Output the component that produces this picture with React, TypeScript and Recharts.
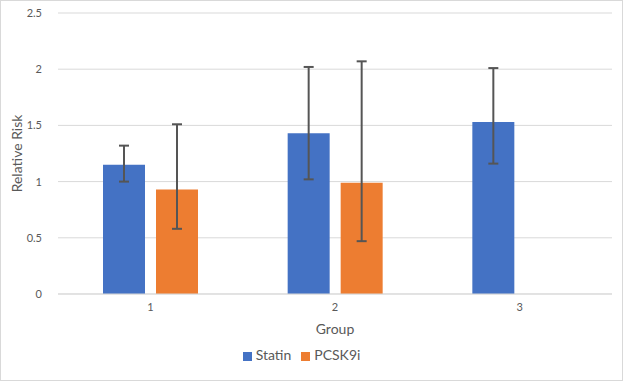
import { BarChart, Bar, XAxis, YAxis, CartesianGrid, Legend, ErrorBar } from "recharts";

const groups = ["1", "2", "3"];
const statin = [1.15, 1.43, 1.53];
const statinLow = [1.0, 1.02, 1.16];
const statinHigh = [1.32, 2.02, 2.01];
const pcsk9i: (number | null)[] = [0.93, 0.99, null];
const pcsk9iLow: (number | null)[] = [0.58, 0.47, null];
const pcsk9iHigh: (number | null)[] = [1.51, 2.07, null];
const yTicks = [0, 0.5, 1, 1.5, 2, 2.5];
const seriesOrder = ["Statin", "PCSK9i"];

const BLUE = "#4472C4";
const ORANGE = "#ED7D31";
const TEXT = "#595959";
const GRID = "#D9D9D9";
const FONT = "Lato, 'Open Sans', sans-serif";

const data = groups.map((g, i) => {
  const p = pcsk9i[i];
  const pl = pcsk9iLow[i];
  const ph = pcsk9iHigh[i];
  return {
    group: g,
    Statin: statin[i],
    statinErr: [statin[i] - statinLow[i], statinHigh[i] - statin[i]],
    PCSK9i: p,
    pcskErr: p != null && pl != null && ph != null ? [p - pl, ph - p] : null,
  };
});

export default function App() {
  return (
    <div
      style={{
        position: "absolute",
        top: 0,
        left: 0,
        width: 623,
        height: 381,
        boxSizing: "border-box",
        border: `1px solid ${GRID}`,
        background: "#fff",
        fontFamily: FONT,
      }}
    >
      <BarChart
        width={621}
        height={379}
        data={data}
        margin={{ top: 12, right: 10, left: 0, bottom: 17 }}
        barSize={42}
        barGap={11}
      >
        <CartesianGrid vertical={false} stroke={GRID} strokeWidth={1} />
        <XAxis
          dataKey="group"
          tick={{ fontSize: 11, fill: TEXT, fontFamily: FONT }}
          tickLine={false}
          axisLine={{ stroke: GRID }}
          tickMargin={3}
          height={52}
          label={{
            value: "Group",
            position: "insideTop",
            offset: 30,
            style: { fontSize: 14, fill: TEXT, fontFamily: FONT },
          }}
        />
        <YAxis
          domain={[0, 2.5]}
          ticks={yTicks}
          width={57}
          tick={{ fontSize: 11, fill: TEXT, fontFamily: FONT }}
          tickLine={false}
          axisLine={false}
          tickMargin={10}
          label={{
            value: "Relative Risk",
            angle: -90,
            position: "insideLeft",
            offset: 16,
            style: { fontSize: 14, fill: TEXT, fontFamily: FONT, textAnchor: "middle" },
          }}
        />
        <Legend
          verticalAlign="bottom"
          iconType="square"
          iconSize={9}
          itemSorter={(item: any) => seriesOrder.indexOf(item.value)}
          wrapperStyle={{ fontSize: 14, color: TEXT, fontFamily: FONT }}
          formatter={(v) => <span style={{ color: TEXT }}>{v}</span>}
        />
        <Bar dataKey="Statin" fill={BLUE} isAnimationActive={false}>
          <ErrorBar dataKey="statinErr" width={5} stroke="#555555" strokeWidth={2} />
        </Bar>
        <Bar dataKey="PCSK9i" fill={ORANGE} isAnimationActive={false}>
          <ErrorBar dataKey="pcskErr" width={5} stroke="#555555" strokeWidth={2} />
        </Bar>
      </BarChart>
    </div>
  );
}
